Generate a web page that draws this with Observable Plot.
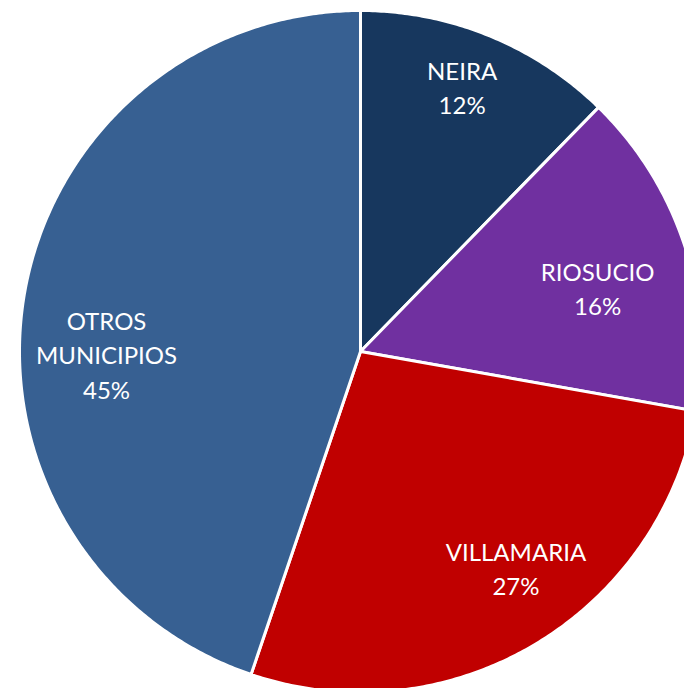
<!DOCTYPE html>
<html>
<head>
<meta charset="utf-8">
<script src="https://cdn.jsdelivr.net/npm/d3@7"></script>
<script src="https://cdn.jsdelivr.net/npm/@observablehq/plot@0.6"></script>
<style>
  html, body { margin: 0; padding: 0; background: #fff; overflow: hidden; }
  #chart svg { display: block; }
</style>
</head>
<body>
<div id="chart"></div>
<script>
// Data
const categories = ["NEIRA", "RIOSUCIO", "VILLAMARIA", "OTROS\nMUNICIPIOS"];
const shares = [12.3, 15.5, 27.4, 44.8];
const pctLabels = ["12%", "16%", "27%", "45%"];
const sliceColors = ["#17375E", "#7030A0", "#C00000", "#376092"];

// label placement nudges (layout only): angle offset in degrees, radius fraction
const labelAngleNudge = [-1, 3.4, -4.8, -10.5];
const labelRadius = [0.826, 0.718, 0.787, 0.745];

const W = 684, H = 688, cx = 360, cy = 351, R = 341;

const pie = d3.pie().sort(null).value(d => d.value);
const arcs = pie(categories.map((c, i) => ({name: c, value: shares[i]})));

const slicePts = [];
arcs.forEach(a => {
  const name = a.data.name;
  slicePts.push({name, x: 0, y: 0});
  const n = Math.max(2, Math.ceil((a.endAngle - a.startAngle) / (Math.PI / 360)));
  for (let k = 0; k <= n; k++) {
    const t = a.startAngle + (a.endAngle - a.startAngle) * k / n;
    slicePts.push({name, x: Math.sin(t), y: Math.cos(t)});
  }
  slicePts.push({name, x: 0, y: 0});
});

const labels = arcs.map((a, i) => {
  const mid = (a.startAngle + a.endAngle) / 2 + labelAngleNudge[i] * Math.PI / 180;
  const r = labelRadius[i];
  return {name: a.data.name, text: a.data.name + "\n" + pctLabels[i], x: r * Math.sin(mid), y: r * Math.cos(mid)};
});

const plot = Plot.plot({
  width: W,
  height: H,
  margin: 0,
  x: {type: "linear", domain: [-cx / R, (W - cx) / R], range: [0, W], axis: null},
  y: {type: "linear", domain: [-(H - cy) / R, cy / R], range: [H, 0], axis: null},
  color: {domain: categories, range: sliceColors},
  style: {background: "#ffffff", fontFamily: "Lato, 'Open Sans', sans-serif"},
  marks: [
    Plot.line(slicePts, {x: "x", y: "y", z: "name", fill: "name", stroke: "#ffffff", strokeWidth: 3, strokeLinejoin: "round", curve: "linear"}),
    Plot.text(labels, {x: "x", y: "y", text: "text", fill: "#ffffff", fontSize: 24, lineHeight: 1.42, textAnchor: "middle", dy: -3})
  ]
});
document.getElementById("chart").appendChild(plot);
</script>
</body>
</html>
